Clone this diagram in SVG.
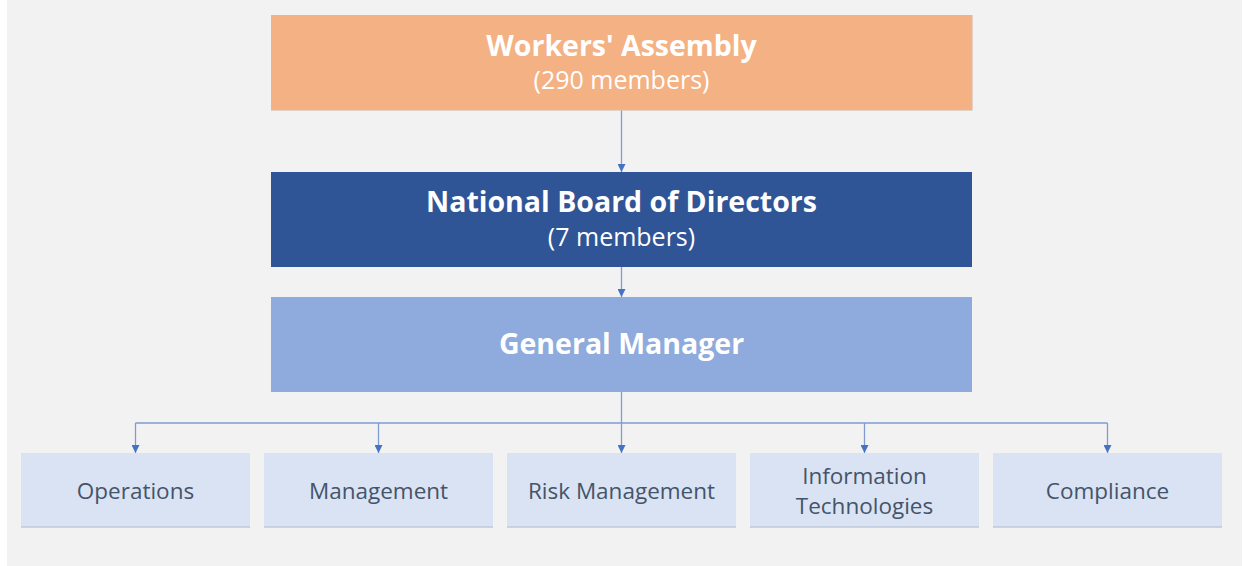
<svg xmlns="http://www.w3.org/2000/svg" width="1244" height="566" viewBox="0 0 1244 566">
<defs>
<style>
.t{font-family:"Open Sans","Noto Sans",sans-serif;text-anchor:middle}
.h{font-weight:bold;font-size:28.5px;fill:#fff}
.s{font-size:25px;fill:#fff}
.b{font-size:22.5px;fill:#44546A}
.ln{fill:none;stroke:#7F9BD0;stroke-width:1.3}
.sh{fill:none;stroke:#BFC9D9;stroke-width:1.5}
</style>
<marker id="ar" viewBox="0 0 10 10" refX="10" refY="5" markerWidth="8" markerHeight="8" markerUnits="userSpaceOnUse" orient="auto">
<path d="M0,0 L10,5 L0,10 z" fill="#4472C4"/>
</marker>
</defs>
<rect x="0" y="0" width="1244" height="566" fill="#fff"/>
<rect x="7" y="0" width="1235" height="566" fill="#F2F2F2"/>
<g id="connectors">
<path class="ln" d="M621.5,110 V172" marker-end="url(#ar)"/>
<path class="ln" d="M621.5,267 V297" marker-end="url(#ar)"/>
<path class="ln" d="M621.5,392 V453" marker-end="url(#ar)"/>
<path class="ln" d="M135.5,423 H1107.5"/>
<path class="ln" d="M135.5,423 V453" marker-end="url(#ar)"/>
<path class="ln" d="M378.5,423 V453" marker-end="url(#ar)"/>
<path class="ln" d="M864.5,423 V453" marker-end="url(#ar)"/>
<path class="ln" d="M1107.5,423 V453" marker-end="url(#ar)"/>
</g>
<g id="workers-assembly">
<rect x="271" y="15" width="701" height="95" fill="#F4B183"/>
<path d="M271,110.2 H972.2 V15" fill="none" stroke="#D9C3B3" stroke-width="1"/>
<text class="t h" x="621.5" y="56">Workers' Assembly</text>
<text class="t s" x="621.5" y="89">(290 members)</text>
</g>
<g id="board">
<rect x="271" y="172" width="701" height="95" fill="#2F5597"/>
<text class="t h" x="621.5" y="212">National Board of Directors</text>
<text class="t s" x="621.5" y="246">(7 members)</text>
</g>
<g id="general-manager">
<rect x="271" y="297" width="701" height="95" fill="#8FAADC"/>
<text class="t h" x="621.5" y="354">General Manager</text>
</g>
<g id="operations">
<rect x="21" y="453" width="229" height="74" fill="#DAE3F3"/>
<path class="sh" d="M21,527 H250"/>
<text class="t b" x="135.5" y="499">Operations</text>
</g>
<g id="management">
<rect x="264" y="453" width="229" height="74" fill="#DAE3F3"/>
<path class="sh" d="M264,527 H493"/>
<text class="t b" x="378.5" y="499">Management</text>
</g>
<g id="risk-management">
<rect x="507" y="453" width="229" height="74" fill="#DAE3F3"/>
<path class="sh" d="M507,527 H736"/>
<text class="t b" x="621.5" y="499">Risk Management</text>
</g>
<g id="information-technologies">
<rect x="750" y="453" width="229" height="74" fill="#DAE3F3"/>
<path class="sh" d="M750,527 H979"/>
<text class="t b" x="864.5" y="484">Information</text>
<text class="t b" x="864.5" y="514">Technologies</text>
</g>
<g id="compliance">
<rect x="993" y="453" width="229" height="74" fill="#DAE3F3"/>
<path class="sh" d="M993,527 H1222"/>
<text class="t b" x="1107.5" y="499">Compliance</text>
</g>
</svg>
